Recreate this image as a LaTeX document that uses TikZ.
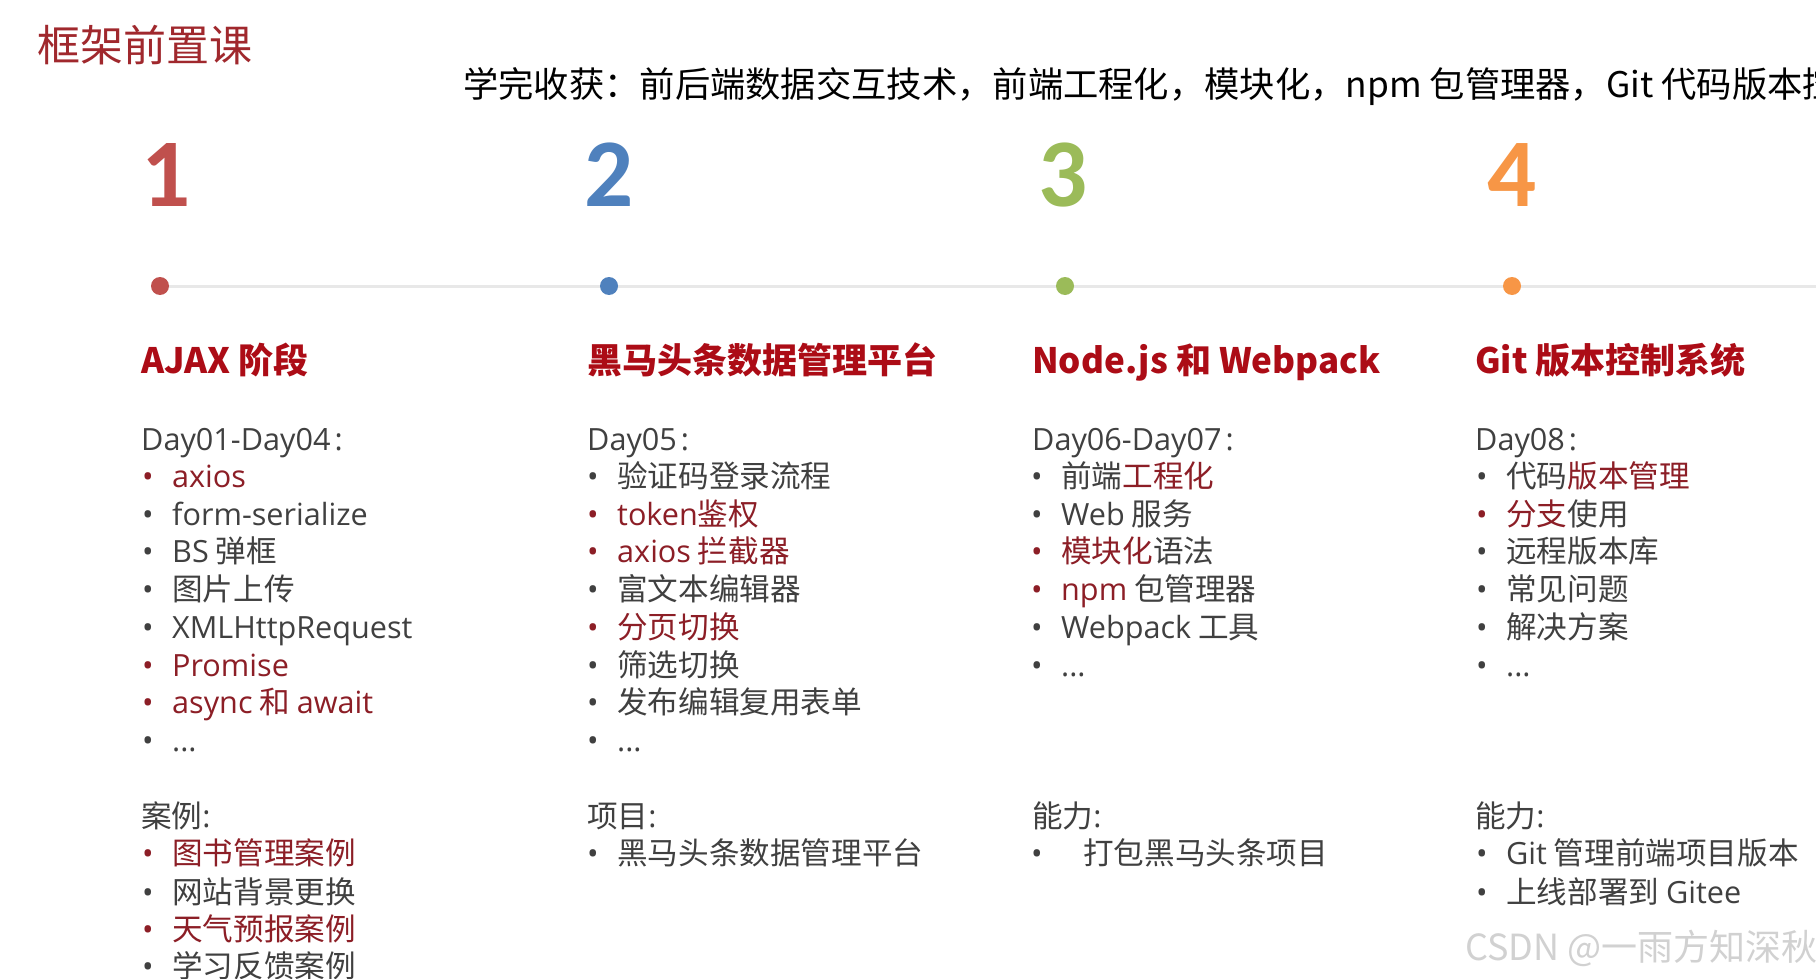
\documentclass[tikz,border=0pt]{standalone}
\usepackage{fontspec}
\newfontfamily\cjk{Noto Sans CJK SC}
\newfontfamily\latf{Open Sans}
\newfontfamily\numf{Carlito}
\definecolor{titlered}{RGB}{160,40,45}
\definecolor{headred}{RGB}{172,12,22}
\definecolor{itemred}{RGB}{140,30,38}
\definecolor{textgrey}{RGB}{64,64,64}
\definecolor{nred}{RGB}{192,80,77}
\definecolor{nblue}{RGB}{79,129,189}
\definecolor{ngreen}{RGB}{155,187,89}
\definecolor{norange}{RGB}{247,150,70}
\definecolor{lineg}{RGB}{232,232,232}
\newcommand\R[1]{\textcolor{itemred}{#1}}
\newcommand\lat[1]{{\latf #1}}
\newcommand\colo{{\latf\hspace{4pt}:}}
\newcommand\bul[1]{\makebox[30pt][l]{\textcolor{#1}{\latf •}}}
\newcommand\bulw[1]{\makebox[52pt][l]{\textcolor{#1}{\latf •}}}
\begin{document}
\begin{tikzpicture}[x=1pt,y=-1pt,
  txt/.style={inner sep=0pt, anchor=base west, font=\cjk\fontsize{30.6}{30.6}\selectfont, text=textgrey},
  head/.style={inner sep=0pt, anchor=base west, font=\cjk\bfseries\fontsize{35}{35}\selectfont, text=headred},
  num/.style={inner sep=0pt, anchor=base west, font=\numf\bfseries\fontsize{97}{97}\selectfont},
  dotn/.style={circle, inner sep=0pt, minimum size=18pt},
  tline/.style={draw=lineg, line width=3pt}]
\useasboundingbox (0,0) rectangle (1816,979);
\clip (0,0) rectangle (1816,979);
\fill[white] (0,0) rectangle (1816,979);

% title and summary
\node[inner sep=0pt, anchor=base west, font=\cjk\fontsize{43}{43}\selectfont, text=titlered] (title) at (37,62) {框架前置课};
\node[inner sep=0pt, anchor=base west, font=\cjk\fontsize{35.3}{35.3}\selectfont, text=black] (gain) at (463,98) {学完收获：前后端数据交互技术，前端工程化，模块化，npm 包管理器，Git 代码版本控制};

% numbers
\node[num, text=nred] (n1) at (141,206) {1};
\node[num, text=nblue] (n2) at (584,206) {2};
\node[num, text=ngreen] (n3) at (1038,206) {3};
\node[num, text=norange] (n4) at (1487,206) {4};

% timeline
\coordinate (tend) at (1816,286);
\node[dotn] (d1) at (160,286) {};
\node[dotn] (d2) at (609,286) {};
\node[dotn] (d3) at (1065,286) {};
\node[dotn] (d4) at (1512,286) {};
\draw[tline] (d1.center) -- (d2.center) -- (d3.center) -- (d4.center) -- (tend);
\fill[nred] (d1) circle (9);
\fill[nblue] (d2) circle (9);
\fill[ngreen] (d3) circle (9);
\fill[norange] (d4) circle (9);

% headings
\node[head] (h1) at (141,373) {AJAX 阶段};
\node[head] (h2) at (587,373) {黑马头条数据管理平台};
\node[head] (h3) at (1032,373) {Node.js 和 Webpack};
\node[head] (h4) at (1475,373) {Git 版本控制系统};

% column 1
\node[txt] (c1h) at (141,450) {\lat{Day01-Day04}\colo};
\node[txt] (c1a) at (142,487) {\bul{itemred}\R{\lat{axios}}};
\node[txt] (c1b) at (142,525) {\bul{textgrey}\lat{form-serialize}};
\node[txt] (c1c) at (142,562) {\bul{textgrey}\lat{BS} 弹框};
\node[txt] (c1d) at (142,600) {\bul{textgrey}图片上传};
\node[txt] (c1e) at (142,638) {\bul{textgrey}\lat{XMLHttpRequest}};
\node[txt] (c1f) at (142,676) {\bul{itemred}\R{\lat{Promise}}};
\node[txt] (c1g) at (142,713) {\bul{itemred}\R{\lat{async} 和 \lat{await}}};
\node[txt] (c1i) at (142,751) {\bul{textgrey}\lat{...}};
\node[txt] (c1k) at (141,827) {案例\lat{:}};
\node[txt] (c1l) at (142,864) {\bul{itemred}\R{图书管理案例}};
\node[txt] (c1m) at (142,903) {\bul{textgrey}网站背景更换};
\node[txt] (c1n) at (142,940) {\bul{itemred}\R{天气预报案例}};
\node[txt] (c1o) at (142,977) {\bul{textgrey}学习反馈案例};

% column 2
\node[txt] (c2h) at (587,450) {\lat{Day05}\colo};
\node[txt] (c2a) at (587,487) {\bul{textgrey}验证码登录流程};
\node[txt] (c2b) at (587,525) {\bul{itemred}\R{\lat{token}鉴权}};
\node[txt] (c2c) at (587,562) {\bul{itemred}\R{\lat{axios} 拦截器}};
\node[txt] (c2d) at (587,600) {\bul{textgrey}富文本编辑器};
\node[txt] (c2e) at (587,638) {\bul{itemred}\R{分页切换}};
\node[txt] (c2f) at (587,676) {\bul{textgrey}筛选切换};
\node[txt] (c2g) at (587,713) {\bul{textgrey}发布编辑复用表单};
\node[txt] (c2i) at (587,751) {\bul{textgrey}\lat{...}};
\node[txt] (c2k) at (587,827) {项目\lat{:}};
\node[txt] (c2l) at (587,864) {\bul{textgrey}黑马头条数据管理平台};

% column 3
\node[txt] (c3h) at (1032,450) {\lat{Day06-Day07}\colo};
\node[txt] (c3a) at (1031,487) {\bul{textgrey}前端\R{工程化}};
\node[txt] (c3b) at (1031,525) {\bul{textgrey}\lat{Web} 服务};
\node[txt] (c3c) at (1031,562) {\bul{itemred}\R{模块化}语法};
\node[txt] (c3d) at (1031,600) {\bul{itemred}\R{\lat{npm}} 包管理器};
\node[txt] (c3e) at (1031,638) {\bul{textgrey}\lat{Webpack} 工具};
\node[txt] (c3f) at (1031,676) {\bul{textgrey}\lat{...}};
\node[txt] (c3k) at (1032,827) {能力\lat{:}};
\node[txt] (c3l) at (1031,864) {\bulw{textgrey}打包黑马头条项目};

% column 4
\node[txt] (c4h) at (1475,450) {\lat{Day08}\colo};
\node[txt] (c4a) at (1476,487) {\bul{textgrey}代码\R{版本管理}};
\node[txt] (c4b) at (1476,525) {\bul{itemred}\R{分支}使用};
\node[txt] (c4c) at (1476,562) {\bul{textgrey}远程版本库};
\node[txt] (c4d) at (1476,600) {\bul{textgrey}常见问题};
\node[txt] (c4e) at (1476,638) {\bul{textgrey}解决方案};
\node[txt] (c4f) at (1476,676) {\bul{textgrey}\lat{...}};
\node[txt] (c4k) at (1475,827) {能力\lat{:}};
\node[txt] (c4l) at (1476,864) {\bul{textgrey}\lat{Git} 管理前端项目版本};
\node[txt] (c4m) at (1476,903) {\bul{textgrey}上线部署到 \lat{Gitee}};

% watermark
\node[inner sep=0pt, anchor=base west, font=\cjk\fontsize{36}{36}\selectfont, text=black!18] (wm) at (1465,960) {CSDN @一雨方知深秋};
\end{tikzpicture}
\end{document}
